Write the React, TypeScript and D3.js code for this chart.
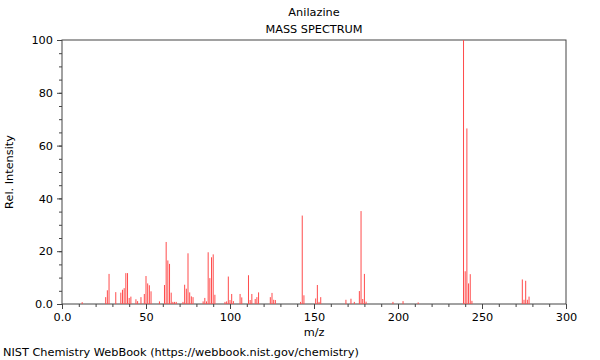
import React, { useEffect, useRef } from 'react'
import * as d3 from 'd3'

// m/z values and relative intensities
const mzValues = [
  12, 26, 27, 28, 32, 35, 36, 37, 38, 39, 40, 41, 44, 45, 47, 49, 50, 51, 52, 53,
  58, 61, 62, 63, 64, 65, 66, 67, 68, 72, 73, 74, 75, 76, 77, 78, 84, 85, 86, 87,
  88, 89, 90, 91, 97, 98, 99, 100, 101, 102, 106, 107, 111, 112, 113, 115, 116, 117,
  124, 125, 126, 127, 142, 143, 144, 151, 152, 153, 154, 169, 172, 174, 177, 178,
  179, 180, 181, 197, 203, 212, 239, 240, 241, 242, 243, 244, 274, 275, 276, 277, 278
]
const intensities = [
  0.7, 2.6, 5.2, 11.4, 4.5, 4.3, 5.4, 6.0, 11.7, 11.7, 2.3, 2.8, 1.8, 1.1, 2.6, 3.8, 10.6, 7.8, 7.1, 4.8,
  1.0, 7.2, 23.5, 16.5, 15.2, 4.3, 0.8, 0.8, 0.8, 0.8, 7.3, 5.8, 19.2, 4.4, 2.9, 2.6, 1.0, 2.3, 1.0, 19.6,
  9.8, 17.7, 18.8, 3.5, 0.8, 1.0, 10.4, 1.5, 3.8, 1.1, 3.8, 2.5, 10.9, 1.5, 3.8, 1.9, 2.6, 4.4,
  2.6, 4.2, 1.6, 1.5, 0.8, 33.5, 3.3, 2.1, 7.2, 0.8, 2.6, 1.6, 2.0, 0.8, 4.9, 35.2,
  1.9, 11.4, 0.9, 0.8, 1.1, 0.6, 100, 12.4, 66.5, 7.8, 11.3, 1.2, 9.3, 1.6, 8.8, 1.6, 2.8
]

const xMajorTicks = [0, 50, 100, 150, 200, 250, 300]
const yMajorTicks = [0, 20, 40, 60, 80, 100]

const compoundName = 'Anilazine'
const chartTitle = 'MASS SPECTRUM'
const xLabel = 'm/z'
const yLabel = 'Rel. Intensity'
const footer = 'NIST Chemistry WebBook (https://webbook.nist.gov/chemistry)'

export default function App() {
  const ref = useRef<SVGSVGElement>(null)

  useEffect(() => {
    const width = 600
    const height = 360
    const margin = { top: 40, right: 34, bottom: 56, left: 62 }
    const plotWidth = width - margin.left - margin.right
    const plotHeight = height - margin.top - margin.bottom

    const svg = d3.select(ref.current)
    svg.selectAll('*').remove()

    const font = 'DejaVu Sans, sans-serif'
    const fontSize = '11.3px'
    const axisColor = '#444'

    const x = d3.scaleLinear().domain([0, 300]).range([0, plotWidth])
    const y = d3.scaleLinear().domain([0, 100]).range([plotHeight, 0])

    const fmt = (d: number) => (d === 0 ? '0.0' : String(d))

    const plot = svg.append('g')
      .attr('transform', `translate(${margin.left},${margin.top})`)

    // minor ticks
    const xMinor = plot.append('g')
      .attr('transform', `translate(0,${plotHeight})`)
      .call(d3.axisBottom(x).tickValues(d3.range(0, 301, 10)).tickSize(3).tickFormat(() => ''))
    const yMinor = plot.append('g')
      .call(d3.axisLeft(y).tickValues(d3.range(0, 101, 5)).tickSize(3).tickFormat(() => ''))

    // major ticks
    const xAxis = plot.append('g')
      .attr('transform', `translate(0,${plotHeight})`)
      .call(d3.axisBottom(x).tickValues(xMajorTicks).tickSize(5).tickPadding(4).tickFormat(d => fmt(+d)))
    const yAxis = plot.append('g')
      .call(d3.axisLeft(y).tickValues(yMajorTicks).tickSize(5).tickPadding(4).tickFormat(d => fmt(+d)))

    for (const g of [xMinor, yMinor, xAxis, yAxis]) {
      g.select('.domain').remove()
      g.selectAll('line').attr('stroke', axisColor)
      g.selectAll('text')
        .attr('fill', '#000')
        .style('font-family', font)
        .style('font-size', fontSize)
    }

    // frame
    plot.append('rect')
      .attr('x', 0)
      .attr('y', 0)
      .attr('width', plotWidth)
      .attr('height', plotHeight)
      .attr('fill', 'none')
      .attr('stroke', axisColor)
      .attr('stroke-width', 1)

    // peaks, drawn as thin rects on top of the frame
    const peaks = mzValues.map((m, i) => ({ m, v: intensities[i] }))
    plot.append('g').selectAll('rect')
      .data(peaks)
      .enter()
      .append('rect')
      .attr('x', d => x(d.m) - 0.5)
      .attr('width', 1)
      .attr('y', d => y(d.v))
      .attr('height', d => y(0) - y(d.v))
      .attr('fill', '#ff4c4c')

    const addText = (txt: string, tx: number, ty: number, anchor: string, rotate = 0) => {
      svg.append('text')
        .attr('transform', `translate(${tx},${ty}) rotate(${rotate})`)
        .attr('text-anchor', anchor)
        .attr('dominant-baseline', 'middle')
        .style('font-family', font)
        .style('font-size', fontSize)
        .attr('fill', '#000')
        .text(txt)
    }

    const cx = margin.left + plotWidth / 2
    addText(compoundName, cx, 13, 'middle')
    addText(chartTitle, cx, 30, 'middle')
    addText(xLabel, cx, 333, 'middle')
    addText(yLabel, 10, margin.top + plotHeight / 2, 'middle', -90)
    addText(footer, 3, 353, 'start')
  }, [])

  return (
    <svg ref={ref} width={600} height={360}
      style={{ position: 'absolute', left: 0, top: 0, background: '#fff' }} />
  )
}
